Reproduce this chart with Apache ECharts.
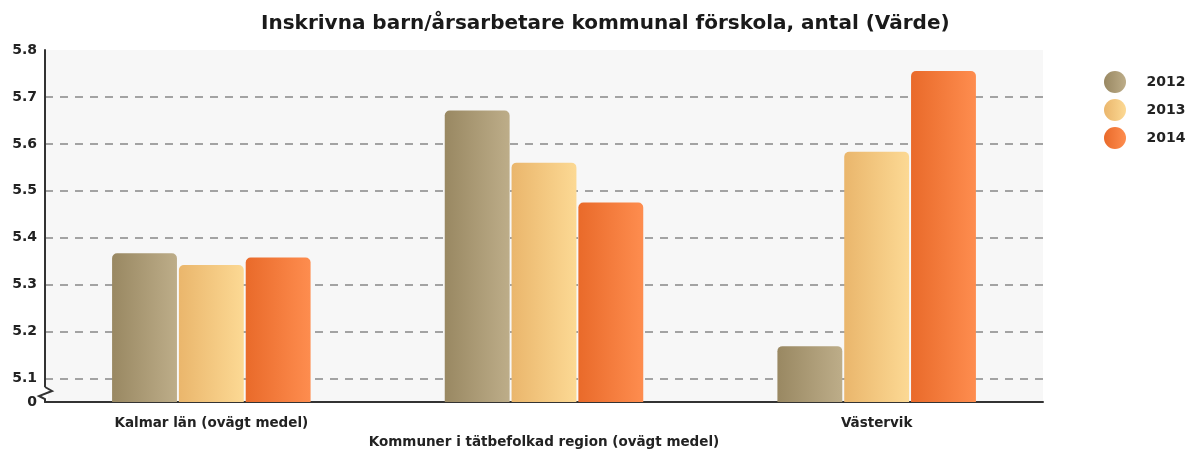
<!DOCTYPE html>
<html>
<head>
<meta charset="utf-8">
<script src="https://cdn.jsdelivr.net/npm/echarts@6/dist/echarts.min.js"></script>
<style>
  html, body { margin: 0; padding: 0; background: #fff; }
  #chart { width: 1190px; height: 452px; }
</style>
</head>
<body>
<div id="chart"></div>
<script>
// data
const categories = ['Kalmar län (ovägt medel)', 'Kommuner i tätbefolkad region (ovägt medel)', 'Västervik'];
const years = ['2012', '2013', '2014'];
const values2012 = [5.367, 5.671, 5.169];
const values2013 = [5.342, 5.560, 5.583];
const values2014 = [5.358, 5.475, 5.755];
const axisMin = 5.05;   // axis is broken: bottom shown as 0
const axisMax = 5.8;

// gradient per series (dark left -> light right)
const palette = [
    ['#998862', '#bdad89'],
    ['#eab66c', '#fcd994'],
    ['#e96a2a', '#fe8d4f']
];

const grad = (c) => new echarts.graphic.LinearGradient(0, 0, 1, 0, [
    { offset: 0, color: c[0] },
    { offset: 1, color: c[1] }
]);

const fontFam = '"DejaVu Sans", Verdana, sans-serif';

const chart = echarts.init(document.getElementById('chart'), null, { renderer: 'canvas' });

const seriesData = [values2012, values2013, values2014];

const option = {
    animation: false,
    title: {
        text: 'Inskrivna barn/årsarbetare kommunal förskola, antal (Värde)',
        left: 256,
        top: 9,
        textStyle: { fontFamily: fontFam, fontWeight: 'bold', fontSize: 20, color: '#1a1a1a' }
    },
    legend: {
        orient: 'vertical',
        left: 1099,
        top: 66,
        icon: 'circle',
        itemWidth: 53,
        itemHeight: 22,
        itemGap: 6,
        textStyle: { fontFamily: fontFam, fontWeight: 'bold', fontSize: 14, color: '#222' },
        data: years
    },
    grid: {
        left: 45,
        right: 147,
        top: 50,
        bottom: 50,
        show: true,
        backgroundColor: '#f7f7f7',
        borderWidth: 0
    },
    xAxis: {
        type: 'category',
        data: categories,
        axisLine: { lineStyle: { color: '#333', width: 2 } },
        axisTick: { alignWithLabel: true, length: 4, lineStyle: { color: '#333' } },
        axisLabel: {
            interval: 0,
            margin: 12,
            lineHeight: 19,
            fontFamily: fontFam,
            fontWeight: 'bold',
            fontSize: 13.5,
            color: '#222',
            formatter: (v, i) => (i % 2 ? '\n' + v : v)
        }
    },
    yAxis: {
        type: 'value',
        min: axisMin,
        max: axisMax,
        splitNumber: 7,
        axisLine: { show: true, lineStyle: { color: '#333', width: 2 } },
        axisTick: { show: false },
        axisLabel: {
            margin: 8,
            fontFamily: fontFam,
            fontWeight: 'bold',
            fontSize: 14,
            color: '#222',
            formatter: (v) => (Math.abs(v - axisMin) < 1e-6 ? '0' : v.toFixed(1))
        },
        splitLine: {
            show: true,
            showMinLine: false,
            showMaxLine: false,
            lineStyle: { color: '#888', width: 1.5, type: [8, 7] }
        }
    },
    graphic: [
        { type: 'rect', shape: { x: 43, y: 387, width: 5, height: 13 }, style: { fill: '#fff' }, z: 100 },
        {
            type: 'polyline',
            shape: { points: [[45, 387], [52, 391], [39, 396], [45, 399], [45, 402]] },
            style: { stroke: '#333', lineWidth: 2, fill: null },
            z: 101
        }
    ],
    series: years.map((y, i) => ({
        name: y,
        type: 'bar',
        data: seriesData[i],
        barWidth: '19.5%',
        barGap: '3%',
        itemStyle: {
            color: grad(palette[i]),
            borderRadius: [5, 5, 0, 0]
        }
    }))
};

chart.setOption(option);
</script>
</body>
</html>
